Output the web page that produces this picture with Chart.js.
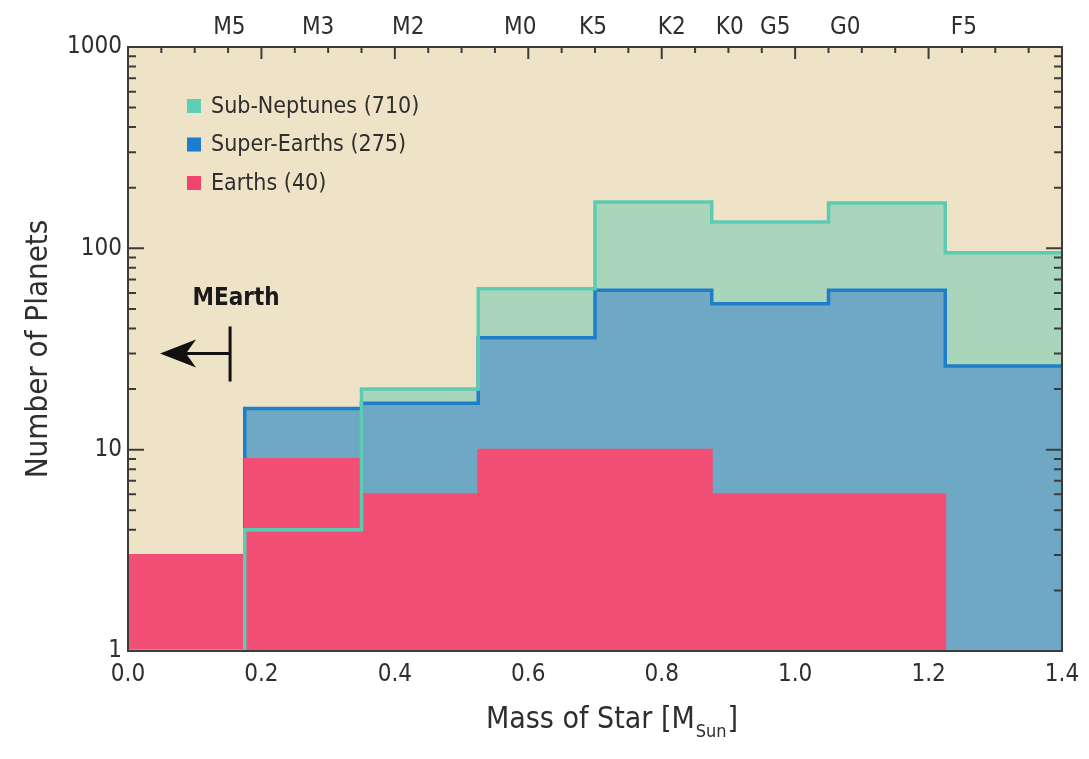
<!DOCTYPE html>
<html><head><meta charset="utf-8">
<script src="https://cdn.jsdelivr.net/npm/chart.js@4.4.1/dist/chart.umd.min.js"></script>
<style>html,body{margin:0;padding:0;background:#fff;}#wrap{width:1089px;height:759px;position:relative;}</style>
</head><body><div id="wrap"><canvas id="c" width="1089" height="759"></canvas></div>
<script>
// ---- data ----
const binEdges = [0, 0.175, 0.35, 0.525, 0.7, 0.875, 1.05, 1.225, 1.4];
const subNeptunes = [1, 4, 20, 63, 170, 135, 168, 95];
const superEarths = [1, 16, 17, 36, 62, 53, 62, 26];
const earths = [3, 9, 6, 10, 10, 6, 6, 1];
const seriesNames = ['Sub-Neptunes (710)', 'Super-Earths (275)', 'Earths (40)'];
const spectralTypes = ['M5', 'M3', 'M2', 'M0', 'K5', 'K2', 'K0', 'G5', 'G0', 'F5'];
const spectralMass = [0.152, 0.285, 0.42, 0.588, 0.697, 0.815, 0.902, 0.97, 1.075, 1.253];
const yMajorTicks = [1, 10, 100, 1000];
const mearthLimit = 0.153, mearthArrowTip = 0.048, mearthLevel = 30, mearthLabelLevel = 56;

// ---- styles ----
const FONT = "'DejaVu Sans Condensed', 'Liberation Sans Narrow', 'DejaVu Sans', sans-serif";
const TXT = '#2e2e2e';
const C = {
  bg: '#efe3c7', snFill: '#a9d5ba', snLine: '#5ccbb1', seFill: '#6fa8c5', seLine: '#1e7ec9',
  eFill: '#f24f76', snKey: '#5fcfb6', seKey: '#1b7dcc', eKey: '#f0436e', axis: '#3c3c3c'
};

// point i sits at the left edge of bin i; the final edge repeats the last bin's value
const toSteps = vals => binEdges.map((x, i) => ({ x, y: vals[Math.min(i, vals.length - 1)] }));

const bgPlugin = {
  id: 'bg',
  beforeDraw(chart) {
    const { ctx, chartArea: a } = chart;
    ctx.save();
    ctx.fillStyle = '#ffffff';
    ctx.fillRect(0, 0, chart.width, chart.height);
    ctx.fillStyle = C.bg;
    ctx.fillRect(a.left, a.top, a.right - a.left, a.bottom - a.top);
    ctx.restore();
  }
};

function minorLogValues() {
  const out = [];
  for (let d = 1; d < 1000; d *= 10) for (let k = 1; k <= 9; k++) out.push({ v: k * d, major: k === 1 });
  out.push({ v: 1000, major: true });
  return out;
}
function linValues() {
  const out = [];
  for (let i = 0; i <= 28; i++) out.push({ v: i * 0.05, major: i % 4 === 0 });
  return out;
}

const ticksPlugin = {
  id: 'ticksMarks',
  beforeDatasetsDraw(chart) {
    const { ctx, chartArea: a, scales } = chart;
    ctx.save();
    ctx.strokeStyle = C.axis; ctx.lineWidth = 2;
    ctx.beginPath();
    minorLogValues().forEach(t => {
      const y = scales.y.getPixelForValue(t.v);
      const L = t.major ? 16 : 8;
      ctx.moveTo(a.left, y); ctx.lineTo(a.left + L, y);
    });
    linValues().forEach(t => {
      const x = scales.x.getPixelForValue(t.v);
      const L = t.major ? 12 : 6;
      ctx.moveTo(x, a.bottom); ctx.lineTo(x, a.bottom - L);
    });
    ctx.stroke();
    ctx.restore();
  },
  afterDatasetsDraw(chart) {
    const { ctx, chartArea: a, scales } = chart;
    ctx.save();
    ctx.strokeStyle = C.axis; ctx.lineWidth = 2;
    ctx.beginPath();
    minorLogValues().forEach(t => {
      const y = scales.y.getPixelForValue(t.v);
      const L = t.major ? 16 : 8;
      ctx.moveTo(a.right, y); ctx.lineTo(a.right - L, y);
    });
    linValues().forEach(t => {
      const x = scales.x.getPixelForValue(t.v);
      const L = t.major ? 12 : 6;
      ctx.moveTo(x, a.top); ctx.lineTo(x, a.top + L);
    });
    ctx.stroke();
    // frame
    ctx.lineWidth = 2;
    ctx.strokeRect(a.left, a.top, a.right - a.left, a.bottom - a.top);

    // legend
    const keys = [C.snKey, C.seKey, C.eKey];
    ctx.font = `23px ${FONT}`;
    ctx.textBaseline = 'middle'; ctx.textAlign = 'left';
    seriesNames.forEach((name, i) => {
      const cy = a.top + 59 + i * 38.5;
      ctx.fillStyle = keys[i];
      ctx.fillRect(a.left + 59, cy - 7, 14, 14);
      ctx.fillStyle = TXT;
      ctx.fillText(name, a.left + 83, cy + 1);
    });

    // MEarth annotation
    const xs = scales.x, ys = scales.y;
    const bx = xs.getPixelForValue(mearthLimit);
    const by = ys.getPixelForValue(mearthLevel);
    const tx = xs.getPixelForValue(mearthArrowTip);
    ctx.strokeStyle = '#111'; ctx.fillStyle = '#111'; ctx.lineWidth = 3;
    ctx.beginPath();
    ctx.moveTo(bx, by - 27); ctx.lineTo(bx, by + 28);
    ctx.moveTo(bx, by); ctx.lineTo(tx + 20, by);
    ctx.stroke();
    ctx.beginPath();
    ctx.moveTo(tx, by);
    ctx.lineTo(tx + 36, by - 14);
    ctx.lineTo(tx + 26, by);
    ctx.lineTo(tx + 36, by + 14);
    ctx.closePath();
    ctx.fill();
    ctx.font = `bold 24px ${FONT}`;
    ctx.textAlign = 'center'; ctx.textBaseline = 'middle';
    ctx.fillStyle = '#1a1a1a';
    ctx.fillText('MEarth', bx + 6, ys.getPixelForValue(mearthLabelLevel));

    // x-axis title with subscript
    const main1 = 'Mass of Star [M', sub = 'Sun', main2 = ']';
    ctx.textAlign = 'left'; ctx.textBaseline = 'alphabetic';
    ctx.font = `30px ${FONT}`;
    const w1 = ctx.measureText(main1).width, w3 = ctx.measureText(main2).width;
    ctx.font = `18px ${FONT}`;
    const w2 = ctx.measureText(sub).width;
    const cx = (a.left + a.right) / 2 + 16;
    let x0 = cx - (w1 + w2 + w3) / 2;
    ctx.fillStyle = TXT;
    ctx.font = `30px ${FONT}`;
    ctx.fillText(main1, x0, 728);
    ctx.font = `18px ${FONT}`;
    ctx.fillText(sub, x0 + w1 + 1, 737);
    ctx.font = `30px ${FONT}`;
    ctx.fillText(main2, x0 + w1 + w2 + 2, 728);
    ctx.restore();
  }
};

const common = { stepped: 'before', pointRadius: 0, pointHoverRadius: 0, tension: 0, xAxisID: 'x', yAxisID: 'y' };

new Chart(document.getElementById('c'), {
  type: 'line',
  data: {
    datasets: [
      Object.assign({ label: 'Sub-Neptunes', data: toSteps(subNeptunes), fill: 'start', backgroundColor: C.snFill, borderColor: 'rgba(0,0,0,0)', borderWidth: 0, order: 4 }, common),
      Object.assign({ label: 'Super-Earths', data: toSteps(superEarths), fill: 'start', backgroundColor: C.seFill, borderColor: C.seLine, borderWidth: 3.5, order: 3 }, common),
      Object.assign({ label: 'Earths', data: toSteps(earths), fill: 'start', backgroundColor: C.eFill, borderColor: C.eFill, borderWidth: 2, order: 2 }, common),
      Object.assign({ label: 'Sub-Neptunes outline', data: toSteps(subNeptunes), fill: false, borderColor: C.snLine, borderWidth: 3.5, order: 1 }, common)
    ]
  },
  options: {
    responsive: false,
    animation: false,
    layout: { padding: { left: 0, right: 27, top: 0, bottom: 0 } },
    plugins: { legend: { display: false }, tooltip: { enabled: false } },
    scales: {
      x: {
        type: 'linear', position: 'bottom', min: 0, max: 1.4,
        ticks: { stepSize: 0.2, callback: v => Number(v).toFixed(1), font: { family: FONT, size: 24 }, color: TXT, padding: 9, maxRotation: 0, autoSkip: false },
        grid: { display: false, drawTicks: false }, border: { display: false },
        afterFit(s) { s.height = 108; }
      },
      xTop: {
        type: 'linear', position: 'top', min: 0, max: 1.4,
        afterBuildTicks(s) { s.ticks = spectralMass.map(v => ({ value: v })); },
        ticks: { callback: (v, i) => spectralTypes[i], font: { family: FONT, size: 24 }, color: TXT, padding: 5, maxRotation: 0, autoSkip: false },
        grid: { display: false, drawTicks: false }, border: { display: false },
        afterFit(s) { s.height = 47; }
      },
      y: {
        type: 'logarithmic', position: 'left', min: 1, max: 1000,
        afterBuildTicks(s) { s.ticks = yMajorTicks.map(v => ({ value: v, major: true })); },
        ticks: { callback: v => String(v), font: { family: FONT, size: 24 }, color: TXT, padding: 6, autoSkip: false },
        grid: { display: false, drawTicks: false }, border: { display: false },
        title: { display: true, text: 'Number of Planets', font: { family: FONT, size: 31 }, color: TXT, padding: { top: 20, bottom: 0 } },
        afterFit(s) { s.width = 128; }
      }
    }
  },
  plugins: [bgPlugin, ticksPlugin]
});
</script>
</body></html>
